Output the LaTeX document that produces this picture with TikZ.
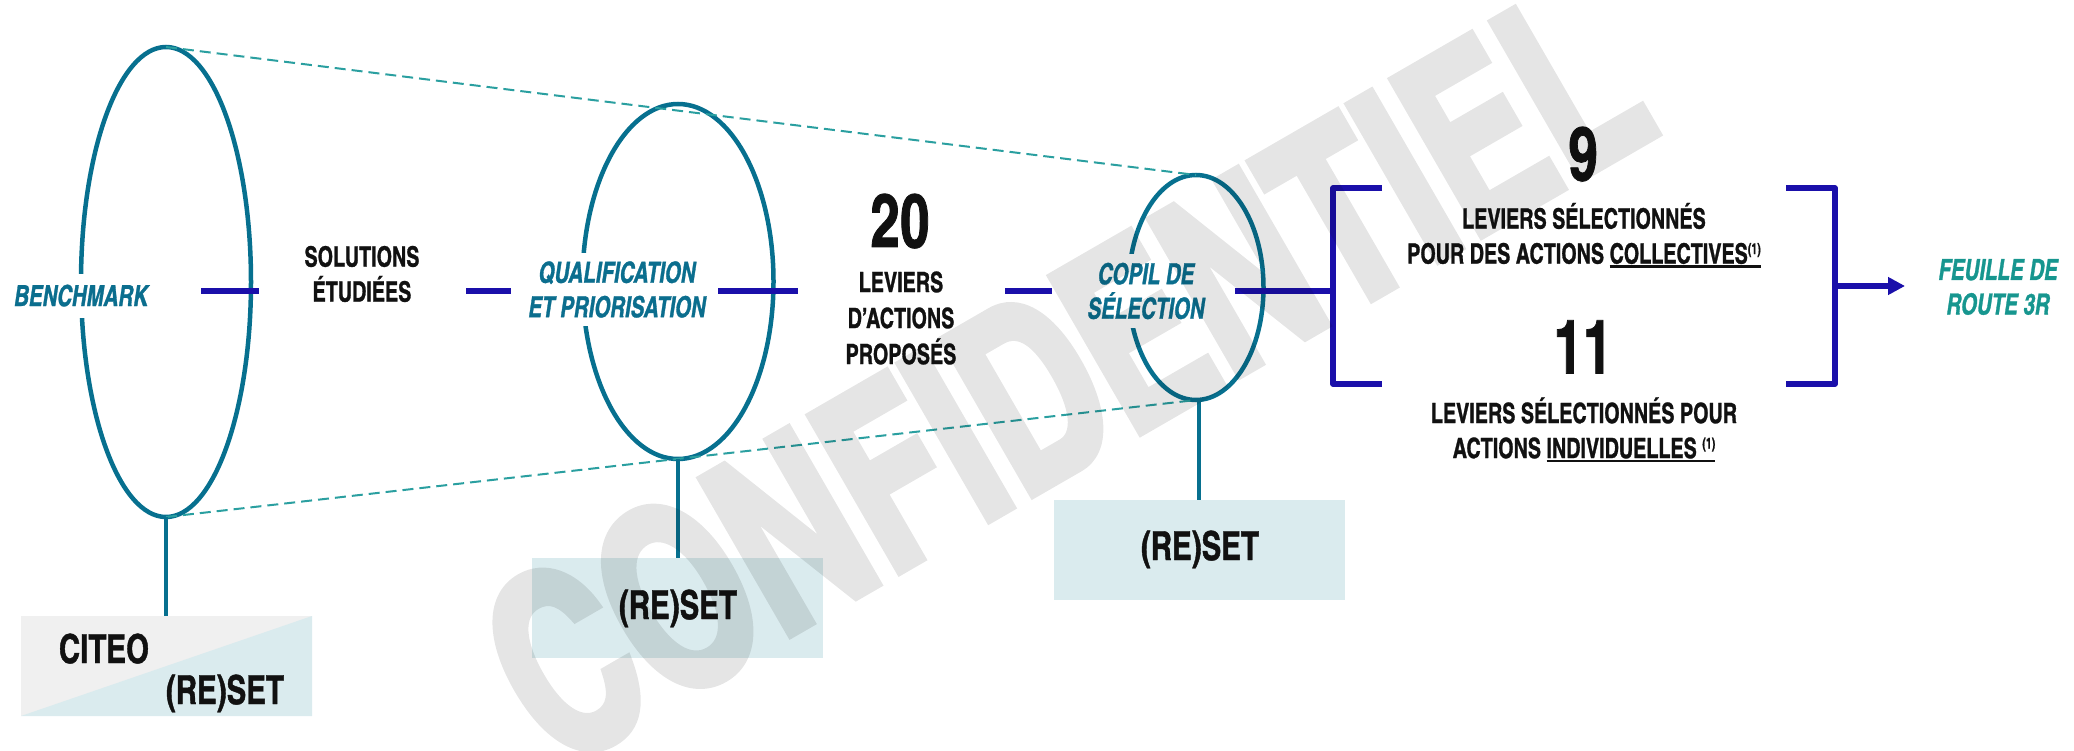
\documentclass[tikz,border=0pt]{standalone}
\usepackage{fontspec}
\usetikzlibrary{shapes.geometric,arrows.meta}
\newfontfamily\cnf{texgyreheroscn}[Extension=.otf,UprightFont=*-bold,ItalicFont=*-bolditalic,BoldFont=*-bold,BoldItalicFont=*-bolditalic,FakeStretch=0.86,FakeBold=1]
\newfontfamily\bxf{texgyreheroscn}[Extension=.otf,UprightFont=*-bold,FakeStretch=0.90,FakeBold=1]
\newfontfamily\wmf{texgyreheroscn}[Extension=.otf,UprightFont=*-bold,FakeStretch=0.84,FakeBold=3]
\definecolor{ellc}{HTML}{07708F}
\definecolor{labc}{HTML}{0B6E8E}
\definecolor{bluec}{HTML}{1A0FAA}
\definecolor{dashc}{HTML}{2A9FA0}
\definecolor{feuc}{HTML}{17968F}
\definecolor{boxc}{HTML}{DAEBEE}
\definecolor{grayc}{HTML}{F0F0F0}
\definecolor{ink}{HTML}{111111}
\newsavebox\ulbox
\newcommand\myul[1]{\sbox\ulbox{#1}\smash{\rlap{\vrule width\wd\ulbox height -1.5pt depth 4pt}}\usebox\ulbox}
\newcommand\supone{\raisebox{9.5pt}{\fontsize{15}{15}\selectfont(1)}}
\tikzset{
 ell/.style={ellipse, draw=ellc, line width=4.5pt, inner sep=0pt, outer sep=0pt},
 lab/.style={font=\cnf\itshape\fontsize{29}{34.5}\selectfont, text=labc, align=center, fill=white, inner xsep=2pt},
 txt/.style={font=\cnf\fontsize{28}{35}\selectfont, text=ink, align=center, inner sep=0pt},
 bignum/.style={font=\cnf\fontsize{75}{75}\selectfont, text=ink, inner sep=0pt, anchor=base},
 boxt/.style={font=\bxf\fontsize{40}{40}\selectfont, text=ink, inner sep=0pt, anchor=base},
 rbox/.style={rectangle, minimum width=291pt, minimum height=100pt, inner sep=0pt, outer sep=0pt},
 stemline/.style={draw=ellc, line width=4.3pt},
 bl/.style={draw=bluec, line width=5.5pt},
 dsh/.style={draw=dashc, line width=2pt, dash pattern=on 11pt off 6pt},
}
\begin{document}
\begin{tikzpicture}[x=1pt,y=-1pt]
\useasboundingbox (0,0) rectangle (2074,751);
% ellipses
\node[ell, minimum width=170pt, minimum height=470pt] (e1) at (166,282) {};
\node[ell, minimum width=191pt, minimum height=355pt] (e2) at (678,281.5) {};
\node[ell, minimum width=135pt, minimum height=225pt] (e3) at (1196,287.5) {};
% labels on ellipses
\node[lab, anchor=base, inner ysep=11pt] (bench) at (81,306) {BENCHMARK};
\node[lab, inner ysep=8pt] (qual) at (617,289.5) {QUALIFICATION\\ET PRIORISATION};
\node[lab, inner ysep=9pt] (copil) at (1146,291) {COPIL DE\\SÉLECTION};
% dashed funnel
\draw[dsh] (e1.north) -- (e3.north);
\draw[dsh] (e1.south) -- (e3.south);
% middle texts
\node[txt] (sol) at (362,274) {SOLUTIONS\\ÉTUDIÉES};
\node[bignum] (n20) at (900,247) {20};
\node[txt, font=\cnf\fontsize{28}{36}\selectfont] (lev) at (901,318) {LEVIERS\\D’ACTIONS\\PROPOSÉS};
% blue segments
\coordinate (s1a) at (201,291); \coordinate (s1b) at (259,291);
\coordinate (s2a) at (466,291); \coordinate (s2b) at (511,291);
\coordinate (s3a) at (718,291); \coordinate (s3b) at (798,291);
\coordinate (s4a) at (1005,291); \coordinate (s4b) at (1052,291);
\coordinate (s5a) at (1235,291);
\draw[bl] (s1a) -- (s1b);
\draw[bl] (s2a) -- (s2b);
\draw[bl] (s3a) -- (s3b);
\draw[bl] (s4a) -- (s4b);
% brackets
\node[rectangle, minimum width=502pt, minimum height=196pt, inner sep=0pt, outer sep=0pt] (sel) at (1584,286) {};
\draw[bl] (s5a) -- (s5a -| sel.west);
\draw[bl, line join=round] ([xshift=49pt]sel.north west) -- (sel.north west) -- (sel.south west) -- ([xshift=49pt]sel.south west);
\draw[bl, line join=round] ([xshift=-49pt]sel.north east) -- (sel.north east) -- (sel.south east) -- ([xshift=-49pt]sel.south east);
\coordinate (arrend) at (1905,286);
\draw[bl, -{Triangle[length=17pt,width=17pt]}] (sel.east) -- (arrend);
\node[lab, fill=none, text=feuc, inner sep=0pt] (feuille) at (1998,287) {FEUILLE DE\\ROUTE 3R};
% selected levers
\node[bignum] (n9) at (1583,180) {9};
\node[txt] (coll) at (1584,233.5) {LEVIERS SÉLECTIONNÉS\\POUR DES ACTIONS \myul{COLLECTIVES\supone}};
\node[bignum] (n11) at (1583,373.5) {11};
\node[txt] (indiv) at (1584,428) {LEVIERS SÉLECTIONNÉS POUR\\ACTIONS \myul{INDIVIDUELLES \supone}};
% stems and boxes
\node[rbox, fill=grayc] (b1) at (166.5,666) {};
\fill[boxc] (b1.south west) -- (b1.north east) -- (b1.south east) -- cycle;
\node[rbox, fill=boxc] (b2) at (677.5,608) {};
\node[rbox, fill=boxc] (b3) at (1199.5,550) {};
\draw[stemline] (e1.south) -- (e1.south |- b1.north);
\draw[stemline] (e2.south) -- (e2.south |- b2.north);
\draw[stemline] ([xshift=3pt]e3.south) -- ([xshift=3pt]e3.south |- b3.north);
\node[boxt] (citeo) at (104,663) {CITEO};
\node[boxt] (r1) at (225,704) {(RE)SET};
\node[boxt] (r2) at (678,619) {(RE)SET};
\node[boxt] (r3) at (1200,560) {(RE)SET};
% watermark
\begin{scope}[transparency group, opacity=0.1]
\node[font=\wmf\fontsize{251}{251}\selectfont, rotate=30, text=black, inner sep=0pt] (wm) at (1064,373) {CONFIDENTIEL};
\end{scope}
\end{tikzpicture}
\end{document}
